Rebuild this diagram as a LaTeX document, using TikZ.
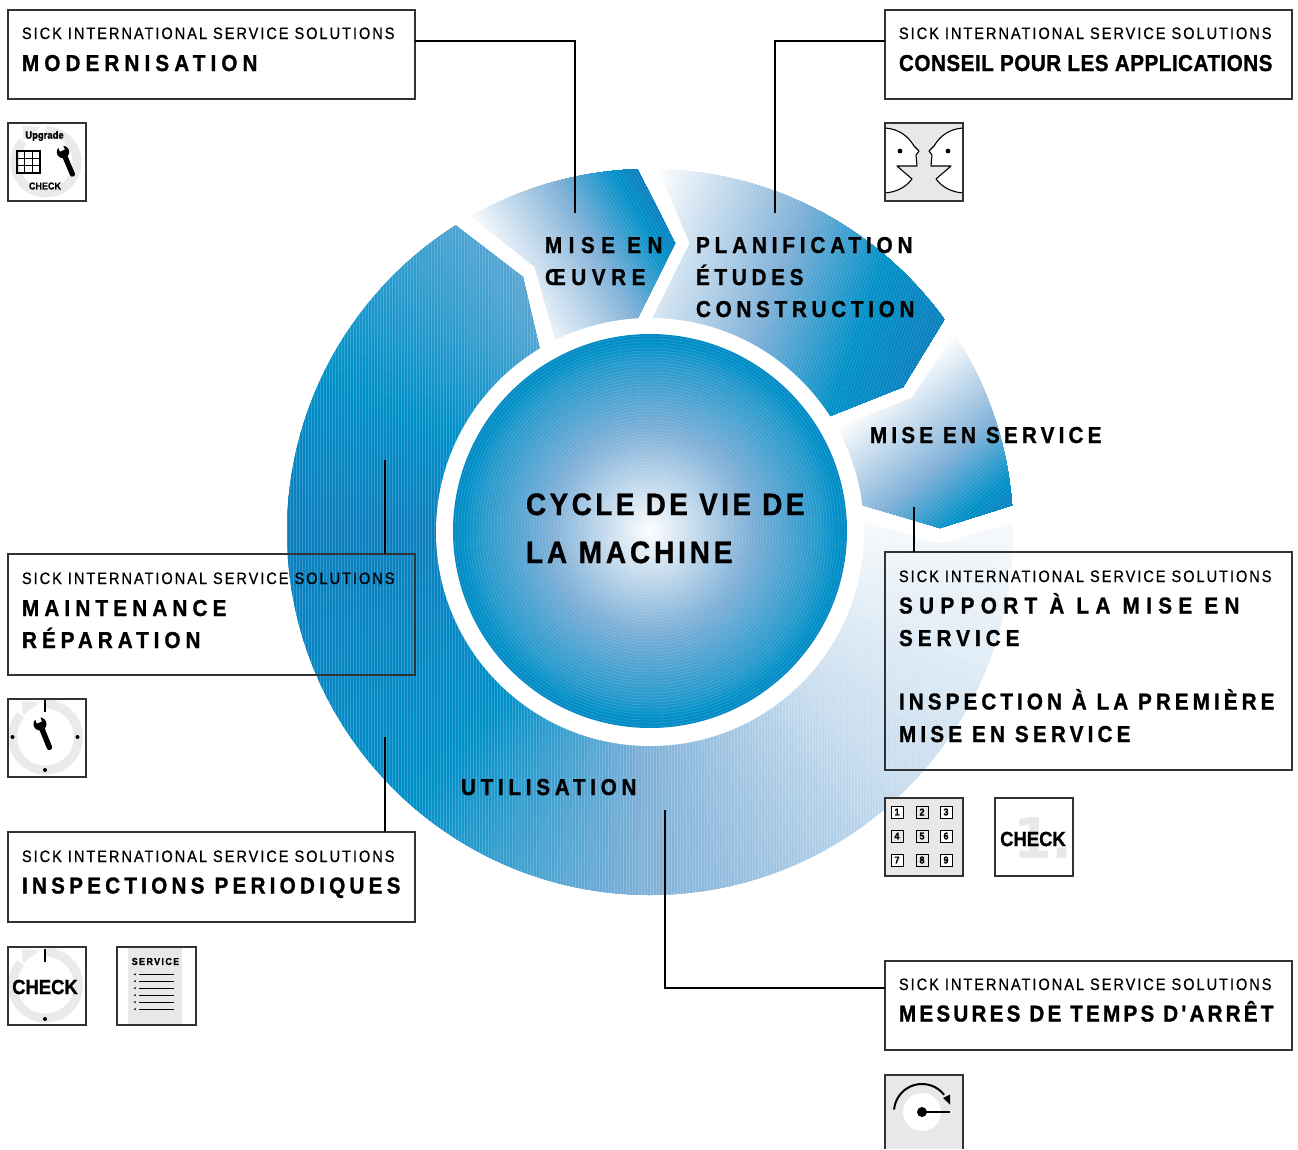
\documentclass[tikz,border=0pt]{standalone}
\usepackage{fontspec}
\usetikzlibrary{calc}
\setmainfont{Liberation Sans}
\newfontfamily\titlef[FakeStretch=0.88,FakeBold=0.7]{Liberation Sans}
\newfontfamily\headf[FakeStretch=0.9,FakeBold=1.1]{Liberation Sans}
\newfontfamily\bigdigit{DejaVu Sans}
\definecolor{cMid}{HTML}{7FB0D8}
\definecolor{cStrong}{HTML}{0090C8}
\definecolor{cDeep}{HTML}{0C7EBE}
\definecolor{iconGray}{HTML}{E8E8E8}
\definecolor{ringGray}{HTML}{EAEAEA}
\definecolor{frameGray}{HTML}{333333}
\newlength\fwa
\newlength\fwb
\newcommand\tracked[2]{%
  \setbox0=\hbox{#2}\setlength\fwa{\wd0}%
  \setbox0=\hbox{\addfontfeature{LetterSpace=10}#2}\setlength\fwb{\wd0}%
  \pgfmathsetmacro\lsval{10*(#1-2.5-\fwa)/(\fwb-\fwa)}%
  \edef\lstmp{\noexpand\addfontfeature{LetterSpace=\lsval}}\lstmp #2}
\newcommand\tfont{\titlef\fontsize{16.5}{16.5}\selectfont}
\newcommand\hfont{\headf\bfseries\fontsize{23}{23}\selectfont}
\newcommand\cfont{\headf\bfseries\fontsize{31}{31}\selectfont}
\newcommand\lbl[6]{\node[txt] (#1) at (#2,#3) {#4\tracked{#5}{#6}};}
% ramp colour from a percentage
\newcommand\rampset[1]{%
  \pgfmathsetmacro\rv{#1}%
  \ifdim\rv pt<50pt
    \pgfmathsetmacro\rp{\rv*2}\colorlet{rc}{cMid!\rp!white}%
  \else\ifdim\rv pt<85pt
    \pgfmathsetmacro\rp{(\rv-50)*100/35}\colorlet{rc}{cStrong!\rp!cMid}%
  \else
    \pgfmathsetmacro\rp{(\rv-85)*100/15}\colorlet{rc}{cDeep!\rp!cStrong}%
  \fi\fi}
% linear gradient along unit normal (#1,#2), with s-values for t=0,50,85,100
\newcommand\lingrad[6]{%
  \foreach \i in {0,1,...,100}{%
    \pgfmathsetmacro\sv{\i<=50 ? #3+(#4-#3)*\i/50 : (\i<=85 ? #4+(#5-#4)*(\i-50)/35 : #5+(#6-#5)*(\i-85)/15)}%
    \rampset{\i}%
    \pgfmathsetmacro\se{\sv+900}%
    \fill[rc] ({\sv*#1+1500*#2},{\sv*#2-1500*#1}) -- ({\sv*#1-1500*#2},{\sv*#2+1500*#1}) --
      ({\se*#1-1500*#2},{\se*#2+1500*#1}) -- ({\se*#1+1500*#2},{\se*#2-1500*#1}) -- cycle;
  }%
  \foreach \i in {0,1,...,110}{%
    \pgfmathsetmacro\sv{#3+\i*3}%
    \draw[hatchline] ({\sv*#1+1500*#2},{\sv*#2-1500*#1}) -- ({\sv*#1-1500*#2},{\sv*#2+1500*#1});
  }}
% angular ramp, angles clockwise on the page
\newcommand\angseg[4]{%
  \foreach \i in {0,1,...,20}{%
    \pgfmathsetmacro\ang{#1+(#2-#1)*\i/20}%
    \pgfmathsetmacro\tv{#3+(#4-#3)*\i/20}%
    \rampset{\tv}%
    \fill[rc] (650,532) -- ++(\ang:600) -- ($(650,532)+(\ang+6:600)$) -- cycle;
  }}
\newcommand\wrenchicon[4]{%
  \begin{scope}[shift={(#1,#2)},rotate=#3]
    \fill (0,0) circle (#4*6.2);
    \draw[line width=#4*5.2pt,line cap=round] (0,0) -- (0,#4*24);
    \fill[white] (-#4*2.6,-#4*9) rectangle (#4*2.6,-#4*1.6);
  \end{scope}}
\newcommand\ringicon[3]{%
  \draw[ringGray,line width=9pt] plot[domain=-90:222,samples=70] ({#1+#3*cos(\x)},{#2+#3*sin(\x)});
  \fill[ringGray] ($(#1,#2)+(-23.5,-36)$) -- ($(#1,#2)+(-6,-34.5)$) -- ($(#1,#2)+(-22.5,-22)$) -- cycle;}
\newcommand\keycell[4]{%
  \node[keybox,fill=#4] (key#3) at (#1,#2) {#3};}
\newcommand\facepart{%
  \fill[white] (885,128) .. controls (899,129) and (908,136) .. (914,146) -- (919,151) -- (916,155) -- (917,166)
     -- (897,166) -- (912,179) .. controls (906,187) and (897,192) .. (885,193) -- cycle;
  \draw[line width=1.1pt,line join=round] (885,128) .. controls (899,129) and (908,136) .. (914,146) -- (919,151) -- (916,155) -- (917,166)
     -- (897,166) -- (912,179) .. controls (906,187) and (897,192) .. (885,193);
  \fill (900,151) circle (2.4);}
\tikzset{
  txt/.style={anchor=base west,inner sep=0pt,outer sep=0pt,text=black},
  hatchline/.style={white,opacity=.18,line width=.5pt},
  infobox/.style={draw=frameGray,line width=1.1pt,anchor=north west,minimum width=407pt,inner sep=0pt,outer sep=0pt},
  iconbox/.style={draw=frameGray,line width=1.1pt,anchor=north west,minimum width=78pt,minimum height=78pt,inner sep=0pt,outer sep=0pt},
  keybox/.style={draw=black,line width=1pt,minimum size=12pt,inner sep=0pt,font=\headf\bfseries\fontsize{10}{10}\selectfont},
  wire/.style={draw=black,line width=2.4pt},
  iconlabel/.style={inner sep=0pt,outer sep=0pt,text=black}
}
\begin{document}
\begin{tikzpicture}[x=1pt,y=-1pt]
\useasboundingbox (0,0) rectangle (1298,1149);
% ---- ring segments
\begin{scope}
  \clip (650,532) circle (363);
  \begin{scope}
    \clip (439,191) -- (535,267) -- (560,356) -- (628,338) -- (675,243) -- (619,133) -- (500,100) -- cycle;
    \lingrad{0.857}{-0.51}{289}{385}{440}{462}
  \end{scope}
  \begin{scope}
    \clip (642,130) -- (690,243) -- (640,344) -- (800,428) -- (903,387) -- (966,284) -- (900,100) -- cycle;
    \lingrad{0.94}{0.34}{674}{825}{920}{995}
  \end{scope}
  \begin{scope}
    \clip (975,301) -- (912,398) -- (800,443) -- (825,494) -- (940,528) -- (1048,494) -- (1100,300) -- cycle;
    \lingrad{0.625}{0.78}{857}{950}{1005}{1030}
  \end{scope}
  \begin{scope}
    \clip (420,198) -- (523,277) -- (550,393) -- (825,510) -- (940,544) -- (1050,512) -- (1100,1000) -- (200,1000) -- (200,198) -- cycle;
    \angseg{-12}{45}{0}{22}
    \angseg{45}{90}{22}{50}
    \angseg{90}{130}{50}{85}
    \angseg{130}{180}{85}{100}
    \angseg{180}{222}{100}{75}
    \angseg{222}{250}{75}{56}
    \foreach \k in {0,1,...,290}{\draw[hatchline] ({200+3*\k},150) -- ({200+3*\k},950);}
  \end{scope}
\end{scope}
% ---- hub
\fill[white] (650,532) circle (214);
\foreach \r in {197,196,...,1}{%
  \pgfmathsetmacro\tv{\r<100 ? \r/2 : (\r<170 ? 50+(\r-100)*25/70 : 75+(\r-170)*15/27)}%
  \rampset{\tv}%
  \fill[rc] (650,531) circle (\r);
}
\foreach \k in {1,...,65}{\draw[hatchline] (650,531) circle ({3*\k});}
% ---- info boxes
\node[infobox,minimum height=89pt] (boxMod) at (8,10) {};
\node[infobox,minimum height=89pt] (boxCon) at (885,10) {};
\node[infobox,minimum height=218pt] (boxSup) at (885,552) {};
\node[infobox,minimum height=121pt] (boxMai) at (8,554) {};
\node[infobox,minimum height=90pt] (boxIns) at (8,832) {};
\node[infobox,minimum height=89pt] (boxMes) at (885,961) {};
% ---- connectors
\coordinate (endMod) at (575,213);
\coordinate (endCon) at (775,213);
\coordinate (endSup) at (914,507);
\coordinate (endMai) at (385,460);
\coordinate (endIns) at (385,737);
\coordinate (endMes) at (665,810);
\draw[wire] ($(boxMod.north east)+(0,31)$) -| (endMod);
\draw[wire] ($(boxCon.north west)+(0,31)$) -| (endCon);
\draw[wire] (endSup) -- (endSup |- boxSup.north);
\draw[wire] (endMai) -- (endMai |- boxMai.north);
\draw[wire] (endIns) -- (endIns |- boxIns.north);
\draw[wire] ($(boxMes.north west)+(0,27)$) -| (endMes);
% ---- box texts
\lbl{t1a}{22}{39}{\tfont}{375}{SICK INTERNATIONAL SERVICE SOLUTIONS}
\lbl{t1b}{22}{71}{\hfont}{238}{MODERNISATION}
\lbl{t2a}{899}{39}{\tfont}{375}{SICK INTERNATIONAL SERVICE SOLUTIONS}
\lbl{t2b}{899}{71}{\hfont}{376}{CONSEIL POUR LES APPLICATIONS}
\lbl{t3a}{899}{582}{\tfont}{375}{SICK INTERNATIONAL SERVICE SOLUTIONS}
\lbl{t3b}{899}{613.5}{\hfont}{343}{SUPPORT À LA MISE EN}
\lbl{t3c}{899}{646}{\hfont}{123}{SERVICE}
\lbl{t3d}{899}{709.5}{\hfont}{378}{INSPECTION À LA PREMIÈRE}
\lbl{t3e}{899}{742}{\hfont}{234}{MISE EN SERVICE}
\lbl{t4a}{22}{584}{\tfont}{375}{SICK INTERNATIONAL SERVICE SOLUTIONS}
\lbl{t4b}{22}{616}{\hfont}{207}{MAINTENANCE}
\lbl{t4c}{22}{648}{\hfont}{181}{RÉPARATION}
\lbl{t5a}{22}{862}{\tfont}{375}{SICK INTERNATIONAL SERVICE SOLUTIONS}
\lbl{t5b}{22}{893.5}{\hfont}{381}{INSPECTIONS PERIODIQUES}
\lbl{t6a}{899}{990}{\tfont}{375}{SICK INTERNATIONAL SERVICE SOLUTIONS}
\lbl{t6b}{899}{1021.5}{\hfont}{377}{MESURES DE TEMPS D'ARRÊT}
% ---- ring texts
\lbl{r1a}{545}{253}{\hfont}{120}{MISE EN}
\lbl{r1b}{545}{285}{\hfont}{103}{ŒUVRE}
\lbl{r2a}{696}{253}{\hfont}{219}{PLANIFICATION}
\lbl{r2b}{696}{285}{\hfont}{110}{ÉTUDES}
\lbl{r2c}{696}{317}{\hfont}{221}{CONSTRUCTION}
\lbl{r3}{870}{443}{\hfont}{234}{MISE EN SERVICE}
\lbl{r4}{461}{795}{\hfont}{178}{UTILISATION}
\lbl{c1}{526}{515}{\cfont}{281}{CYCLE DE VIE DE}
\lbl{c2}{526}{563}{\cfont}{209}{LA MACHINE}
% ---- icon: upgrade
\node[iconbox,fill=white] (icUp) at (8,123) {};
\ringicon{46}{162}{31}
\node[iconlabel,font=\headf\bfseries\fontsize{10.5}{10.5}\selectfont] (upTxt) at (44.5,136) {Upgrade};
\node[iconlabel,font=\headf\bfseries\fontsize{10}{10}\selectfont] (upChk) at (45,186) {CHECK};
\draw[line width=1.1pt] (17,151) rectangle (40,173);
\draw[line width=1.1pt] (17,158.3) -- (40,158.3) (17,165.6) -- (40,165.6) (24.7,151) -- (24.7,173) (32.3,151) -- (32.3,173);
\wrenchicon{63}{152}{23}{1}
\draw[frameGray,line width=1.1pt] (icUp.north west) rectangle (icUp.south east);
% ---- icon: faces
\node[iconbox,fill=iconGray] (icFace) at (885,123) {};
\facepart
\begin{scope}[shift={(1848,0)},xscale=-1]
  \facepart
\end{scope}
\draw[frameGray,line width=1.1pt] (icFace.north west) rectangle (icFace.south east);
% ---- icon: clock
\node[iconbox,fill=white] (icClock) at (8,699) {};
\ringicon{45.5}{737}{33}
\draw[line width=2.6pt] (45,699) -- (45,712);
\fill (12.5,737) circle (2) (77.5,737) circle (2) (45,770) circle (2);
\wrenchicon{40}{724}{22}{1.05}
\draw[frameGray,line width=1.1pt] (icClock.north west) rectangle (icClock.south east);
% ---- icon: check with ring
\node[iconbox,fill=white] (icCheck) at (8,947) {};
\ringicon{45.5}{985}{33}
\draw[line width=2.6pt] (45,949) -- (45,962);
\fill (45,1019) circle (2);
\node[iconlabel,font=\headf\bfseries\fontsize{20.5}{20.5}\selectfont] (chkTxt) at (45,987) {CHECK};
\draw[frameGray,line width=1.1pt] (icCheck.north west) rectangle (icCheck.south east);
% ---- icon: service sheet
\node[iconbox,fill=white,minimum width=79pt] (icServ) at (117,947) {};
\fill[iconGray] (128,948) rectangle (182,1024);
\node[iconlabel,font=\headf\bfseries\fontsize{10}{10}\selectfont] (servTxt) at (155.5,961.5) {\tracked{50}{SERVICE}};
\foreach \yy in {974.3,981.2,988.2,995.2,1002.2,1009.2}{%
  \fill (135,\yy) circle (1);
  \draw[line width=.9pt] (139,\yy) -- (174,\yy);
}
\draw[frameGray,line width=1.1pt] (icServ.north west) rectangle (icServ.south east);
% ---- icon: keypad
\node[iconbox,fill=iconGray] (icKeys) at (885,798) {};
\keycell{897}{812}{1}{white}
\keycell{922}{812}{2}{iconGray}
\keycell{946}{812}{3}{white}
\keycell{897}{836}{4}{iconGray}
\keycell{922}{836}{5}{iconGray}
\keycell{946}{836}{6}{white}
\keycell{897}{860}{7}{white}
\keycell{922}{860}{8}{iconGray}
\keycell{946}{860}{9}{white}
% ---- icon: first check
\node[iconbox,fill=white] (icFirst) at (995,798) {};
\begin{scope}
  \clip (995,798) rectangle (1073,876);
  \node[txt,text=iconGray,font=\bigdigit\bfseries\fontsize{56}{56}\selectfont] (oneTxt) at (1013,858) {1.};
\end{scope}
\node[iconlabel,font=\headf\bfseries\fontsize{20.5}{20.5}\selectfont] (chk2Txt) at (1033,839) {CHECK};
\draw[frameGray,line width=1.1pt] (icFirst.north west) rectangle (icFirst.south east);
% ---- icon: stop time
\fill[iconGray] (885,1075) rectangle (963,1149);
\draw[frameGray,line width=1.1pt] (885,1149) -- (885,1075) -- (963,1075) -- (963,1149);
\fill[white] (922,1112) circle (19);
\draw[line width=2pt] plot[domain=185:322,samples=40] ({922+28*cos(\x)},{1112+28*sin(\x)});
\fill (943,1098) -- (950,1094.5) -- (950,1104.5) -- cycle;
\fill (922,1112) circle (5);
\draw[line width=2pt] (922,1112) -- (950,1112);
\end{tikzpicture}
\end{document}
